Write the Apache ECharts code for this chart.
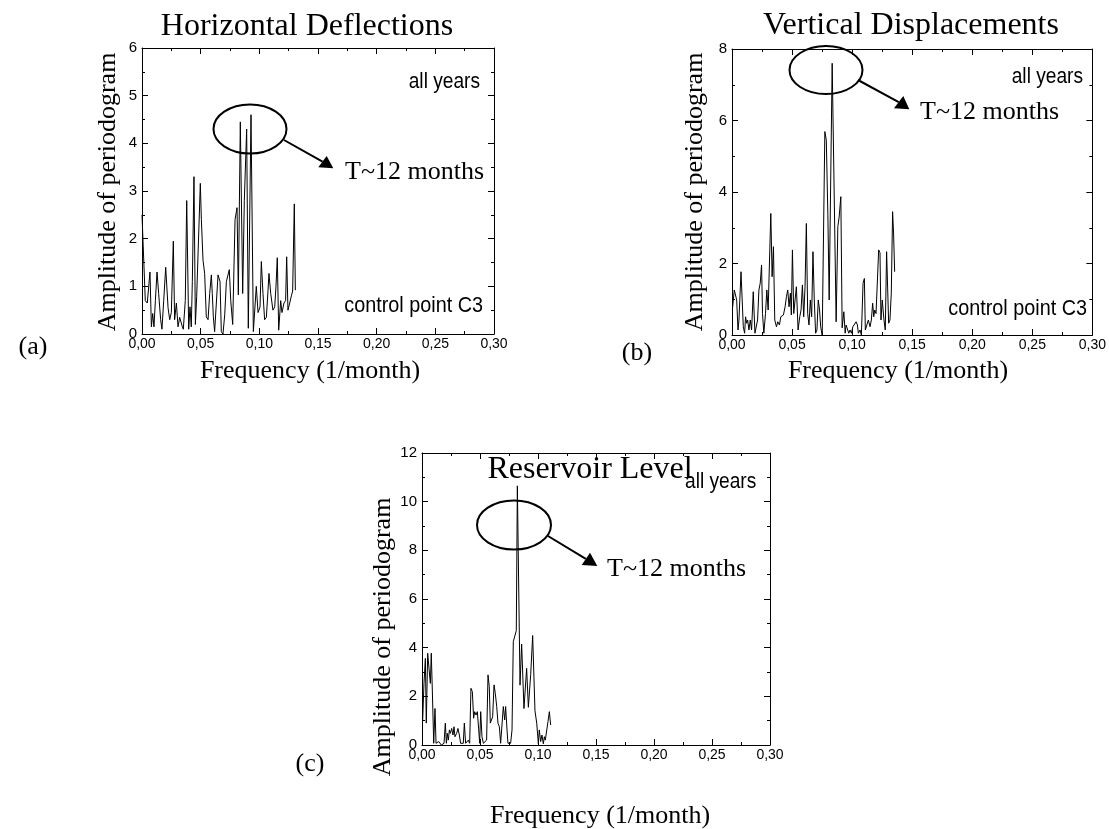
<!DOCTYPE html>
<html>
<head>
<meta charset="utf-8">
<script src="https://cdn.jsdelivr.net/npm/echarts@6/dist/echarts.min.js"></script>
<style>
  html, body { margin: 0; padding: 0; background: #fff; }
  #chart { width: 1109px; height: 829px; }
</style>
</head>
<body>
<div id="chart"></div>
<script>
// (a) Horizontal Deflections
const freqA = [0, 0.0028, 0.0045, 0.0068, 0.008, 0.0091, 0.0102, 0.0114, 0.0128, 0.0142,
  0.0159, 0.017, 0.0185, 0.0202, 0.0222, 0.0236, 0.025, 0.0267, 0.0278, 0.0293,
  0.0307, 0.0321, 0.0335, 0.0344, 0.0352, 0.0369, 0.0381, 0.0398, 0.0409, 0.042,
  0.0429, 0.0443, 0.0455, 0.0466, 0.048, 0.0497, 0.0506, 0.052, 0.0534, 0.0548,
  0.0563, 0.0577, 0.0591, 0.0599, 0.0608, 0.0619, 0.0636, 0.0648, 0.0665, 0.0676,
  0.069, 0.0705, 0.0719, 0.0733, 0.0744, 0.0756, 0.0773, 0.0793, 0.081, 0.0821,
  0.0838, 0.0858, 0.0872, 0.0892, 0.0906, 0.0929, 0.0949, 0.096, 0.0974, 0.0989,
  0.1006, 0.1017, 0.1031, 0.1045, 0.106, 0.1074, 0.1082, 0.1097, 0.1116, 0.1131,
  0.1142, 0.1153, 0.1165, 0.1182, 0.1193, 0.121, 0.1224, 0.1233, 0.1244, 0.1259,
  0.1273, 0.1284, 0.1298, 0.1307];
const ampA = [2.5, 0.7, 0.65, 1.3, 0.15, 0.43, 0.15, 0.7, 1.3, 0.85,
  0.3, 0.1, 0.7, 1.4, 0.55, 0.3, 0.45, 1.95, 0.3, 0.65,
  0.15, 0.35, 0.35, 0.15, 0.1, 0.7, 2.8, 0.1, 0.57, 0.15,
  1.1, 3.3, 0.2, 0.78, 0.78, 3.16, 2.4, 1.55, 1.27, 0.36,
  0.3, 0.85, 1.24, 0.85, 0.36, 0.05, 0.05, 1.24, 1.1, 0.05,
  0, 0.4, 1.1, 1.13, 1.35, 0.71, 0.2, 2.4, 2.65, 0.82,
  4.45, 0.85, 2.8, 4.3, 0.12, 4.6, 0.05, 0.05, 1.0, 0.45,
  0.57, 1.52, 0.85, 0.3, 0.35, 0.92, 1.27, 0.85, 0.5, 0.57,
  1.0, 1.6, 0.08, 0.7, 0.45, 0.65, 0.7, 1.62, 0.5, 0.65,
  0.8, 0.9, 2.73, 0.92];

// (b) Vertical Displacements
const freqB = [0.0003, 0.0019, 0.0039, 0.005, 0.0058, 0.0075, 0.0083, 0.0094, 0.0105, 0.0113,
  0.0122, 0.013, 0.0141, 0.0152, 0.0163, 0.0177, 0.0191, 0.0202, 0.0213, 0.0224,
  0.0235, 0.0246, 0.0254, 0.0265, 0.0279, 0.029, 0.0301, 0.0315, 0.0323, 0.0334,
  0.0345, 0.0356, 0.037, 0.0381, 0.0395, 0.0406, 0.0417, 0.0428, 0.0442, 0.0453,
  0.0464, 0.0475, 0.0486, 0.0494, 0.0503, 0.0514, 0.0525, 0.0536, 0.055, 0.0564,
  0.0575, 0.0586, 0.0597, 0.0608, 0.0619, 0.063, 0.0641, 0.0652, 0.0663, 0.0674,
  0.0685, 0.0696, 0.0707, 0.0718, 0.0729, 0.0738, 0.0751, 0.0762, 0.0773, 0.0785,
  0.0798, 0.0809, 0.0834, 0.0867, 0.0881, 0.0892, 0.0906, 0.0917, 0.0931, 0.0942,
  0.095, 0.0961, 0.0972, 0.0983, 0.0994, 0.1006, 0.1019, 0.1033, 0.1044, 0.1052,
  0.1066, 0.1077, 0.1091, 0.1102, 0.111, 0.1124, 0.1135, 0.1149, 0.116, 0.1171,
  0.118, 0.1188, 0.1199, 0.1207, 0.1221, 0.1232, 0.124, 0.1251, 0.1265, 0.1276,
  0.1287, 0.1296, 0.1304, 0.1315, 0.1326, 0.1337, 0.1345, 0.1354];
const ampB = [0.7, 1.26, 0.98, 0.14, 0.42, 1.77, 1.82, 0.23, 0.05, 0.51,
  0.33, 0.42, 0.14, 0.42, 0.14, 1.21, 0.05, 0.05, 0.42, 1.26,
  1.45, 1.96, 0.6, 0.05, 0.6, 1.26, 0.7, 0.65, 3.4, 1.63,
  2.47, 0.42, 0.23, 0.37, 0.28, 0.51, 0.47, 0.56, 0.79, 1.07,
  1.26, 0.79, 1.17, 0.56, 2.38, 0.6, 0.98, 1.35, 0.14, 0.51,
  0.7, 1.4, 0.51, 1.35, 3.12, 0.6, 0.28, 0.98, 0.51, 2.33,
  0.98, 0.05, 0.14, 0.98, 0.7, 0.23, 0, 0.05, 5.69, 5.45,
  3.36, 0.98, 7.6, 0.37, 3.03, 3.3, 3.87, 0.2, 0.65, 0.05,
  0.28, 0.23, 0.05, 0.14, 0.05, 0.23, 0.23, 0.37, 0.28, 0.05,
  0.14, 0, 1.45, 1.58, 0.14, 0.14, 0.42, 0.23, 0.42, 0.89,
  0.51, 0.7, 0.6, 0.6, 2.38, 2.3, 0.42, 0.98, 0.42, 0.14,
  2.33, 2.28, 0.33, 0.42, 1.17, 3.45, 2.85, 1.77];

// (c) Reservoir Level
const freqC = [0.0006, 0.0017, 0.0029, 0.0037, 0.0049, 0.006, 0.0072, 0.008, 0.0089, 0.0101,
  0.0112, 0.0121, 0.0132, 0.0144, 0.0155, 0.0167, 0.0178, 0.019, 0.0201, 0.021,
  0.0218, 0.0227, 0.0236, 0.0244, 0.0256, 0.0267, 0.0276, 0.0284, 0.0299, 0.031,
  0.0322, 0.0333, 0.0345, 0.0356, 0.0365, 0.0376, 0.0388, 0.0399, 0.0411, 0.0422,
  0.0434, 0.0445, 0.0454, 0.0466, 0.0477, 0.0489, 0.0497, 0.0506, 0.0517, 0.0529,
  0.054, 0.0557, 0.0569, 0.058, 0.0589, 0.0601, 0.0609, 0.0621, 0.0632, 0.0644,
  0.0655, 0.0667, 0.0678, 0.069, 0.0701, 0.0713, 0.0721, 0.0733, 0.0741, 0.0753,
  0.0764, 0.0776, 0.0787, 0.0802, 0.0813, 0.0822, 0.0845, 0.0859, 0.0879, 0.0902,
  0.0917, 0.0937, 0.0954, 0.0974, 0.0989, 0.1003, 0.1011, 0.1023, 0.1034, 0.1046,
  0.1055, 0.1063, 0.1075, 0.1086, 0.1098, 0.1109];
const ampC = [1.03, 2.53, 3.56, 0.9, 3.77, 3.77, 2.53, 3.77, 2.26, 0.07,
  1.5, 0.07, 0.05, 0.14, 0.2, 0, 0.07, 0.07, 0.9, 0.07,
  0.48, 0.2, 0.62, 0.48, 0.68, 0.41, 0.75, 0.34, 0.48, 0.68,
  0.41, 0.07, 0.07, 0.07, 0.9, 0.07, 0, 0.2, 0.07, 2.33,
  2.19, 1.1, 1.37, 1.23, 1.37, 0.62, 0.07, 1.37, 0.34, 0.07,
  0, 0.2, 2.88, 2.4, 0.9, 0.96, 1.16, 2.47, 2.12, 1.58,
  0.9, 0.75, 0.07, 0.07, 1.58, 1.03, 1.58, 0.62, 0.07, 0.07,
  0.07, 0.62, 4.25, 4.3, 4.7, 10.65, 2.46, 4.15, 1.5, 3.15,
  1.55, 2.9, 4.5, 1.4, 0.9, 0.05, 0.62, 0.14, 0.41, 0.05,
  0.34, 0.2, 0.2, 0.96, 1.37, 0.82];

const yMaxes = [6, 8, 12];
const ySteps = [1, 2, 2];

const SERIF = '"Liberation Serif", "Times New Roman", serif';
const SANS = '"Liberation Sans", Arial, sans-serif';

const pairs = (xs, ys) => xs.map((x, i) => [x, ys[i]]);

const grids = [
  { left: 142, top: 48, width: 352, height: 286 },
  { left: 732, top: 49, width: 362, height: 286 },
  { left: 422, top: 453, width: 348, height: 292 }
];

const black = { color: '#000', width: 1 };
const xAxes = [], yAxes = [];
grids.forEach((g, i) => {
  ['bottom', 'top'].forEach((pos) => {
    xAxes.push({
      type: 'value', gridIndex: i, position: pos,
      min: 0, max: 0.3, interval: 0.05,
      axisLine: { show: true, onZero: false, lineStyle: black },
      axisTick: { show: true, inside: true, length: 6, lineStyle: black },
      minorTick: { show: true, splitNumber: 2, length: 3, lineStyle: black },
      splitLine: { show: false },
      axisLabel: {
        show: pos === 'bottom', margin: 3, color: '#000',
        fontFamily: SANS, fontSize: 14,
        formatter: (v) => v.toFixed(2).replace('.', ',')
      }
    });
  });
  ['left', 'right'].forEach((pos) => {
    yAxes.push({
      type: 'value', gridIndex: i, position: pos,
      min: 0, max: yMaxes[i], interval: ySteps[i],
      axisLine: { show: true, onZero: false, lineStyle: black },
      axisTick: { show: true, inside: true, length: 6, lineStyle: black },
      minorTick: { show: true, splitNumber: 2, length: 3, lineStyle: black },
      splitLine: { show: false },
      axisLabel: {
        show: pos === 'left', margin: 5, color: '#000',
        fontFamily: SANS, fontSize: 15
      }
    });
  });
});

const seriesData = [pairs(freqA, ampA), pairs(freqB, ampB), pairs(freqC, ampC)];
const series = seriesData.map((d, i) => ({
  type: 'line', xAxisIndex: 2 * i, yAxisIndex: 2 * i,
  data: d, symbol: 'none', clip: true,
  lineStyle: { color: '#000', width: 1 }
}));

function text(x, y, s, opts) {
  opts = opts || {};
  return {
    type: 'text', x: x, y: y, z: 100,
    rotation: opts.rot || 0,
    scaleX: opts.sx || 1,
    style: {
      text: s, fill: '#000',
      fontFamily: opts.family || SERIF,
      fontSize: opts.size || 26,
      align: opts.align || 'center',
      verticalAlign: 'middle'
    }
  };
}
function ellipse(cx, cy, rx, ry) {
  return { type: 'ellipse', z: 100, shape: { cx, cy, rx, ry },
    style: { fill: 'none', stroke: '#000', lineWidth: 2 } };
}
function arrow(x1, y1, bx, by, tip, b1, b2) {
  return [
    { type: 'line', z: 100, shape: { x1, y1, x2: bx, y2: by },
      style: { stroke: '#000', lineWidth: 2 } },
    { type: 'polygon', z: 100, shape: { points: [tip, b1, b2] },
      style: { fill: '#000' } }
  ];
}

const graphics = [
  // panel a
  text(307, 27, 'Horizontal Deflections', { size: 32 }),
  text(108, 192, 'Amplitude of periodogram', { rot: Math.PI / 2 }),
  text(310, 371, 'Frequency (1/month)'),
  text(33, 347, '(a)'),
  text(480, 82, 'all years', { family: SANS, size: 22, align: 'right', sx: 0.87 }),
  text(483, 306, 'control point C3', { family: SANS, size: 22, align: 'right', sx: 0.9 }),
  text(345, 172, 'T~12 months', { align: 'left' }),
  ellipse(250, 129, 36.5, 24.5),
  ...arrow(284, 140, 322.5, 161.7, [333.3, 168.3], [318.3, 167.3], [326.7, 156]),
  // panel b
  text(911, 26, 'Vertical Displacements', { size: 32 }),
  text(695, 192, 'Amplitude of periodogram', { rot: Math.PI / 2 }),
  text(898, 371, 'Frequency (1/month)'),
  text(637, 353, '(b)'),
  text(1083, 77, 'all years', { family: SANS, size: 22, align: 'right', sx: 0.87 }),
  text(1087, 309, 'control point C3', { family: SANS, size: 22, align: 'right', sx: 0.9 }),
  text(920, 112, 'T~12 months', { align: 'left' }),
  ellipse(826, 70, 36.5, 24),
  ...arrow(858, 80, 898.7, 102.2, [909.3, 109.3], [894, 108.3], [903.3, 96]),
  // panel c
  text(590, 470, 'Reservoir Level', { size: 32 }),
  text(383, 637, 'Amplitude of periodogram', { rot: Math.PI / 2 }),
  text(600, 816, 'Frequency (1/month)'),
  text(310, 764, '(c)'),
  text(685, 482, 'all years', { family: SANS, size: 22, align: 'left', sx: 0.87 }),
  text(607, 569, 'T~12 months', { align: 'left' }),
  ellipse(514, 525, 37, 24.5),
  ...arrow(548, 536, 585.8, 558.8, [597.3, 566], [581.7, 565], [590, 552.7])
];

const myChart = echarts.init(document.getElementById('chart'));
myChart.setOption({
  animation: false,
  backgroundColor: '#fff',
  grid: grids,
  xAxis: xAxes,
  yAxis: yAxes,
  series: series,
  graphic: graphics
});
</script>
</body>
</html>
